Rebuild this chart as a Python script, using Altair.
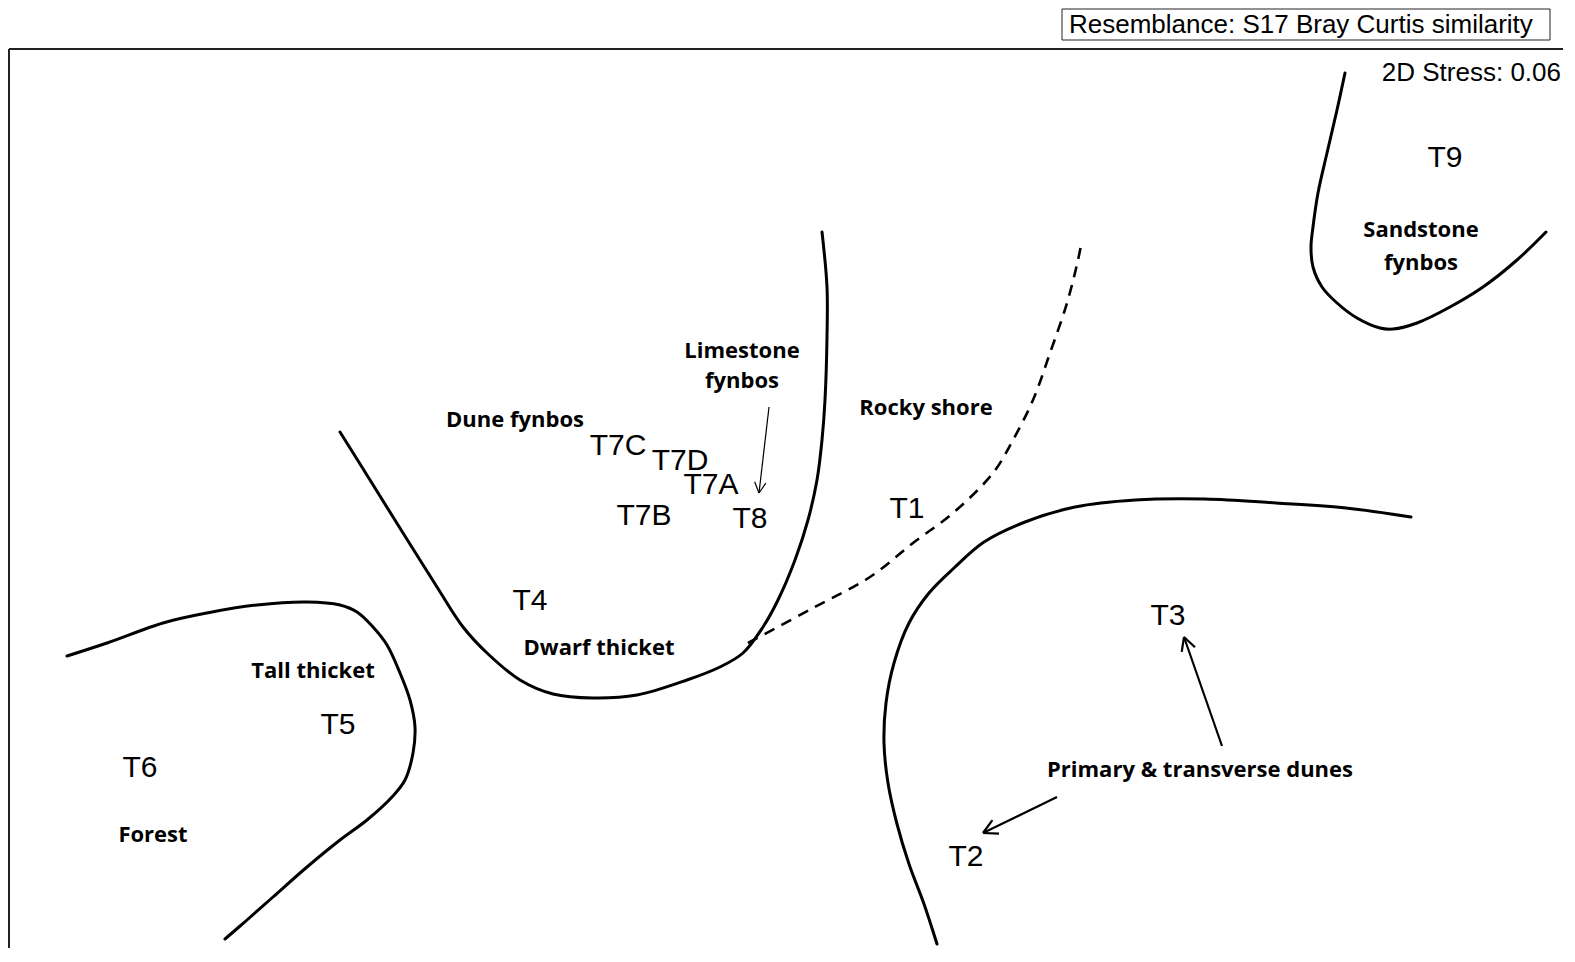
import altair as alt
import pandas as pd
import numpy as np

# ---- sample positions (NMDS ordination, in plot units) ----
sample_names = ["T1", "T2", "T3", "T4", "T5", "T6", "T7A", "T7B", "T7C", "T7D", "T8", "T9"]
sample_x = [907, 966, 1168, 530, 338, 140, 711, 644, 618, 680, 750, 1445]
sample_y = [518, 866, 625, 610, 734, 777, 494, 525, 455, 470, 528, 167]

# ---- group labels ----
group_text = ["Limestone", "fynbos", "Dune fynbos", "Rocky shore", "Dwarf thicket",
              "Tall thicket", "Forest", "Primary & transverse dunes", "Sandstone", "fynbos"]
group_x = [742, 742, 515, 926, 599, 313, 153, 1200, 1421, 1421]
group_y = [358, 388, 427, 415, 655, 678, 842, 777, 237, 270]

# ---- hand-drawn group boundaries ----
forest_x = [67, 107, 163, 207, 257, 307, 340, 357, 373, 387, 400, 410, 415, 413, 405, 392, 367, 340, 307, 273, 247, 225]
forest_y = [656, 643, 623, 613, 605, 602, 605, 612, 627, 645, 673, 700, 727, 753, 780, 797, 820, 840, 867, 897, 920, 939]

dwarf_x = [340, 370, 403, 437, 463, 487, 520, 553, 593, 637, 687, 720, 743, 763, 778, 795, 808, 817, 822, 825, 827, 827, 822]
dwarf_y = [432, 480, 533, 587, 627, 653, 680, 694, 698, 695, 680, 667, 653, 627, 600, 560, 520, 480, 440, 400, 337, 287, 232]

dunes_x = [937, 924, 909, 897, 888, 884, 886, 894, 909, 929, 954, 984, 1025, 1075, 1135, 1205, 1276, 1346, 1411]
dunes_y = [944, 904, 864, 824, 783, 743, 703, 663, 623, 593, 568, 542, 522, 507, 500, 499, 503, 508, 517]

sand_x = [1345, 1337, 1327, 1318, 1313, 1311, 1313, 1322, 1337, 1357, 1380, 1393, 1417, 1450, 1483, 1517, 1546]
sand_y = [73, 110, 153, 193, 227, 247, 267, 287, 303, 318, 328, 329, 323, 307, 287, 260, 232]

rocky_x = [748, 813, 870, 913, 953, 993, 1013, 1033, 1050, 1067, 1078, 1082]
rocky_y = [643, 608, 577, 543, 513, 473, 440, 400, 353, 303, 260, 240]

# ---- arrows: start -> tip ----
arrow_x0 = [769, 1222, 1057]
arrow_y0 = [407, 746, 797]
arrow_x1 = [759, 1184, 983]
arrow_y1 = [493, 637, 833]
arrow_w = [1.2, 2.2, 2.2]
arrow_head = [12, 15, 16]

TITLE = "Resemblance: S17 Bray Curtis similarity"
STRESS = "2D Stress: 0.06"

xs = alt.Scale(domain=[8, 1563], nice=False, zero=False)
ys = alt.Scale(domain=[8, 948], nice=False, zero=False, reverse=True)


def X(f="x"):
    return alt.X(f"{f}:Q", scale=xs, axis=None)


def Y(f="y"):
    return alt.Y(f"{f}:Q", scale=ys, axis=None)


# curves table
rows = []
for name, cx, cy in [("forest", forest_x, forest_y), ("dwarf", dwarf_x, dwarf_y),
                     ("dunes", dunes_x, dunes_y), ("sand", sand_x, sand_y)]:
    for i, (a, b) in enumerate(zip(cx, cy)):
        rows.append({"curve": name, "i": i, "x": a, "y": b})
curves = pd.DataFrame(rows)
rocky = pd.DataFrame({"i": range(len(rocky_x)), "x": rocky_x, "y": rocky_y})

# arrow segments (shaft + two head strokes)
segs = []
for k in range(len(arrow_x0)):
    x0, y0, x1, y1 = arrow_x0[k], arrow_y0[k], arrow_x1[k], arrow_y1[k]
    w = arrow_w[k]
    segs.append({"x": x0, "y": y0, "x2": x1, "y2": y1, "w": w})
    ang = np.arctan2(y0 - y1, x0 - x1)
    for s in (-1, 1):
        a = ang + s * np.radians(28)
        segs.append({"x": x1, "y": y1,
                     "x2": x1 + arrow_head[k] * np.cos(a),
                     "y2": y1 + arrow_head[k] * np.sin(a), "w": w})
arrows = pd.DataFrame(segs)

samples = pd.DataFrame({"name": sample_names, "x": sample_x, "y": sample_y})
groups = pd.DataFrame({"t": group_text, "x": group_x, "y": group_y})

frame = pd.DataFrame({"x": [9, 9], "y": [49, 49], "x2": [9, 1563], "y2": [948, 49]})
box = pd.DataFrame({"x": [1062], "x2": [1550], "y": [9], "y2": [40]})
title_df = pd.DataFrame({"t": [TITLE], "x": [1069], "y": [33]})
stress_df = pd.DataFrame({"t": [STRESS], "x": [1561], "y": [81]})

frame_l = alt.Chart(frame).mark_rule(color="#222", strokeWidth=2).encode(
    x=X(), y=Y(), x2="x2:Q", y2="y2:Q")
box_l = alt.Chart(box).mark_rect(fill="white", stroke="#222", strokeWidth=1).encode(
    x=X(), y=Y(), x2="x2:Q", y2="y2:Q")
title_l = alt.Chart(title_df).mark_text(
    font="Liberation Sans", fontSize=26, align="left", baseline="alphabetic", color="black"
).encode(x=X(), y=Y(), text="t:N")
stress_l = alt.Chart(stress_df).mark_text(
    font="Liberation Sans", fontSize=26, align="right", baseline="alphabetic", color="black"
).encode(x=X(), y=Y(), text="t:N")

curves_l = alt.Chart(curves).mark_line(
    color="black", strokeWidth=3, interpolate="catmull-rom", strokeCap="round"
).encode(x=X(), y=Y(), detail="curve:N", order="i:Q")
rocky_l = alt.Chart(rocky).mark_line(
    color="black", strokeWidth=2.6, interpolate="catmull-rom", strokeDash=[11, 8]
).encode(x=X(), y=Y(), order="i:Q")

arrows_l = alt.Chart(arrows).mark_rule(color="black").encode(
    x=X(), y=Y(), x2="x2:Q", y2="y2:Q",
    strokeWidth=alt.StrokeWidth("w:Q", scale=None, legend=None))

samples_l = alt.Chart(samples).mark_text(
    font="Liberation Sans", fontSize=30, align="center", baseline="alphabetic", color="black"
).encode(x=X(), y=Y(), text="name:N")

groups_l = alt.Chart(groups).mark_text(
    font="Open Sans", fontSize=22, fontWeight="bold", align="center", baseline="alphabetic", color="black"
).encode(x=X(), y=Y(), text="t:N")

chart = alt.layer(
    frame_l, box_l, title_l, stress_l, curves_l, rocky_l, arrows_l, samples_l, groups_l
).properties(width=1555, height=940, padding=0, background="white").configure_view(strokeWidth=0)

chart.save("out.html", embed_options={"renderer": "svg", "actions": False})
